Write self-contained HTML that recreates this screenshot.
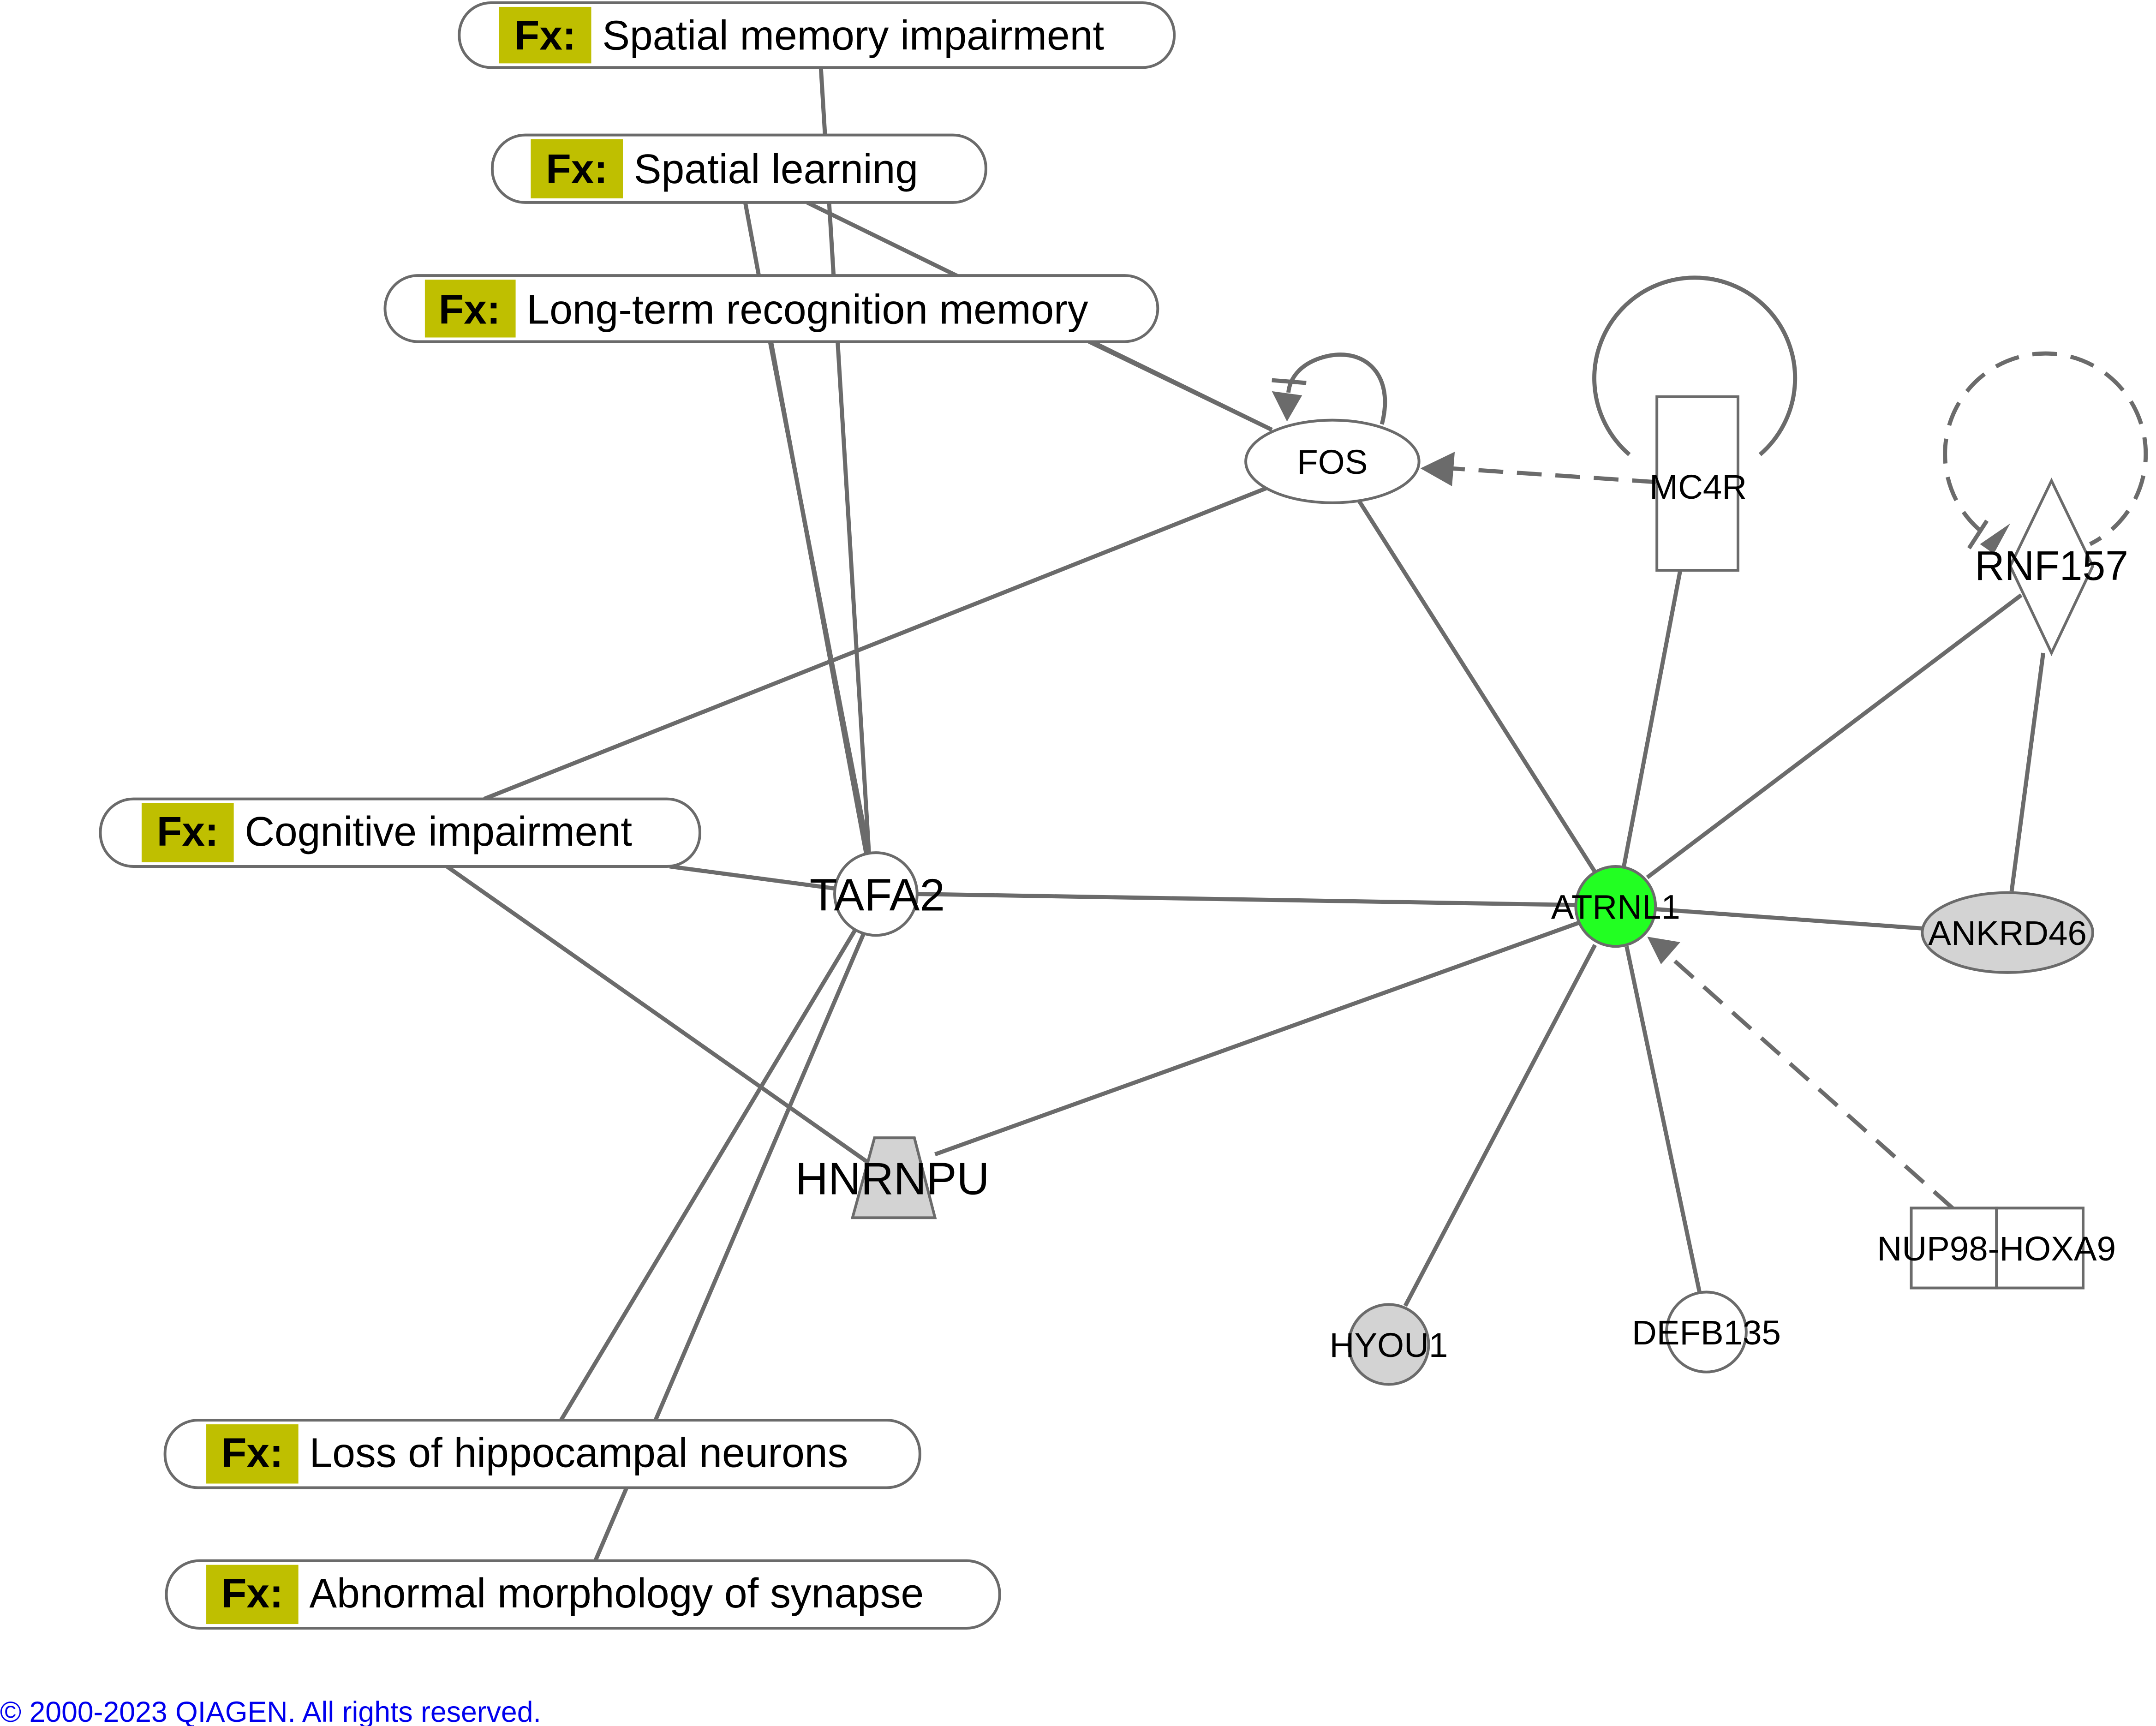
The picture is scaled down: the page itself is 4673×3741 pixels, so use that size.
<!DOCTYPE html>
<html><head><meta charset="utf-8"><style>
html,body{margin:0;padding:0;background:#fff;}
svg{display:block;}
text{font-family:"Liberation Sans",Arial,sans-serif;}
</style></head><body>
<svg width="4673" height="3741" viewBox="0 0 1568 1253" preserveAspectRatio="none" xmlns="http://www.w3.org/2000/svg">
<g stroke="#6b6b6b" stroke-width="3" fill="none">
<!-- edges -->
<line x1="597" y1="49" x2="632" y2="620"/>
<line x1="542" y1="147" x2="630" y2="620"/>
<line x1="560" y1="248" x2="632" y2="620"/>
<line x1="587" y1="147" x2="925" y2="312"/>
<line x1="792" y1="248" x2="925" y2="312"/>
<line x1="922" y1="354" x2="352" y2="580"/>
<line x1="487" y1="629" x2="607" y2="645"/>
<line x1="325" y1="629" x2="640" y2="850"/>
<line x1="667" y1="649" x2="1146" y2="657"/>
<line x1="622" y1="675" x2="408" y2="1031"/>
<line x1="628" y1="678" x2="433" y2="1133"/>
<line x1="680" y1="838" x2="1148" y2="670"/>
<line x1="988" y1="363" x2="1160" y2="633"/>
<line x1="1222" y1="414" x2="1181" y2="629"/>
<line x1="1470" y1="432" x2="1198" y2="637"/>
<line x1="1463" y1="647" x2="1486" y2="474"/>
<line x1="1204" y1="660" x2="1398" y2="674"/>
<line x1="1160" y1="686" x2="1022" y2="948"/>
<line x1="1183" y1="687" x2="1236" y2="938"/>
<line x1="1205" y1="350" x2="1055" y2="340" stroke-dasharray="18,10"/>
<line x1="1420" y1="877" x2="1215" y2="695" stroke-dasharray="18,10"/>
<!-- loops -->
<path d="M1185 330 A73 73 0 1 1 1280 330"/>
<path d="M1440 385 A73 73 0 1 1 1520 395" stroke-dasharray="18,10"/>
<path d="M1005 308 C1015 270 990 250 960 260 C945 265 938 275 937 285"/>
<line x1="925" y1="276" x2="950" y2="278"/>
<line x1="1432" y1="398" x2="1445" y2="378"/>
</g>
<g fill="#6b6b6b">
<polygon points="1033,340 1058,328 1056,353"/>
<polygon points="1198,680 1222,684 1208,700"/>
<polygon points="936,306 925,284 947,287"/>
<polygon points="1462,380 1440,395 1450,402"/>
</g>
<!-- nodes -->
<g stroke="#6b6b6b" stroke-width="2">
<ellipse cx="969" cy="335" rx="63" ry="30" fill="#fff"/>
<rect x="1205" y="288" width="59" height="126" fill="#fff"/>
<polygon points="1492,349 1522,411 1492,474 1462,411" fill="#fff"/>
<circle cx="637" cy="649" r="30" fill="#fff"/>
<circle cx="1175" cy="658" r="29" fill="#22ff22"/>
<ellipse cx="1460" cy="677" rx="62" ry="29" fill="#d3d3d3"/>
<polygon points="636,826 665,826 680,884 620,884" fill="#d3d3d3"/>
<rect x="1390" y="877" width="62" height="58" fill="#fff"/>
<rect x="1452" y="877" width="63" height="58" fill="#fff"/>
<circle cx="1010" cy="976" r="29" fill="#d3d3d3"/>
<circle cx="1241" cy="967" r="29" fill="#fff"/>
<!-- fx pills -->
<rect x="334" y="2" width="520" height="47" rx="23" fill="#fff"/>
<rect x="358" y="98" width="359" height="49" rx="24" fill="#fff"/>
<rect x="280" y="200" width="562" height="48" rx="24" fill="#fff"/>
<rect x="73" y="580" width="436" height="49" rx="24" fill="#fff"/>
<rect x="120" y="1031" width="549" height="49" rx="24" fill="#fff"/>
<rect x="121" y="1133" width="606" height="49" rx="24" fill="#fff"/>
</g>
<g fill="#bfbf00">
<rect x="363" y="5" width="67" height="41"/>
<rect x="386" y="101" width="67" height="43"/>
<rect x="309" y="203" width="66" height="42"/>
<rect x="103" y="583" width="67" height="43"/>
<rect x="150" y="1034" width="67" height="43"/>
<rect x="150" y="1136" width="67" height="43"/>
</g>
<g font-size="30" fill="#000">
<text x="374" y="36" font-weight="bold">Fx:</text><text x="438" y="36">Spatial memory impairment</text>
<text x="397" y="133" font-weight="bold">Fx:</text><text x="461" y="133">Spatial learning</text>
<text x="319" y="235" font-weight="bold">Fx:</text><text x="383" y="235">Long-term recognition memory</text>
<text x="114" y="614" font-weight="bold">Fx:</text><text x="178" y="614">Cognitive impairment</text>
<text x="161" y="1065" font-weight="bold">Fx:</text><text x="225" y="1065">Loss of hippocampal neurons</text>
<text x="161" y="1167" font-weight="bold">Fx:</text><text x="225" y="1167">Abnormal morphology of synapse</text>
</g>
<g font-size="25" fill="#000" text-anchor="middle">
<text x="969" y="344">FOS</text>
<text x="1235" y="362">MC4R</text>
<text x="1492" y="421" font-size="30">RNF157</text>
<text x="638" y="661" font-size="33">TAFA2</text>
<text x="1175" y="667">ATRNL1</text>
<text x="1460" y="686">ANKRD46</text>
<text x="649" y="867" font-size="33">HNRNPU</text>
<text x="1452" y="915">NUP98-HOXA9</text>
<text x="1010" y="985">HYOU1</text>
<text x="1241" y="976">DEFB135</text>
</g>
<text x="0" y="1250" font-size="21" fill="#0000ee">© 2000-2023 QIAGEN. All rights reserved.</text>
</svg>
</body></html>
